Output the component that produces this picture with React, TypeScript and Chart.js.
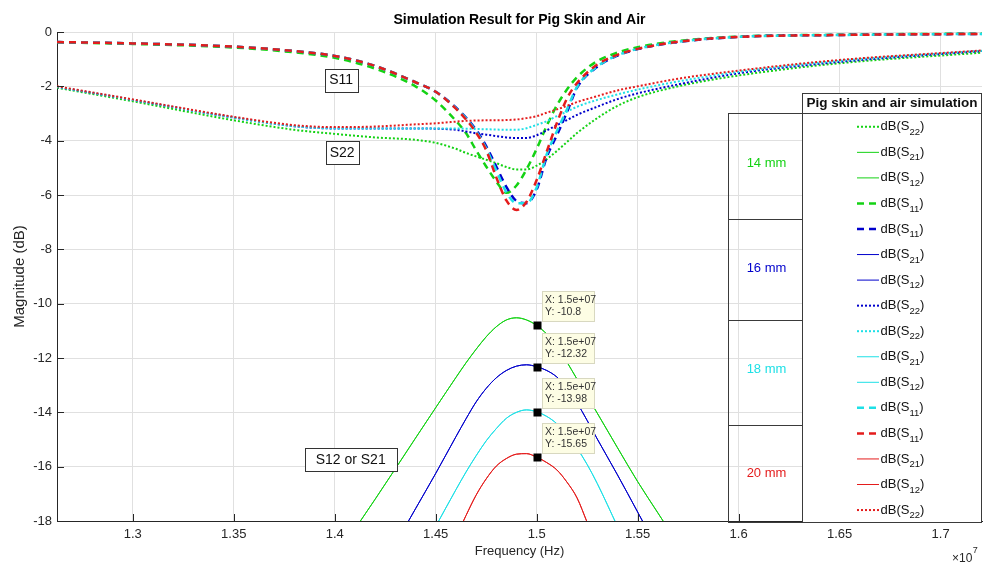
import React, { useEffect, useRef } from 'react';
import { Chart, registerables } from 'chart.js';

Chart.register(...registerables);

// ---------------- DATA ----------------
// Frequency in units of 1e7 Hz (axis shows ×10^7)
const X_MIN = 1.2625;
const X_MAX = 1.7205;
const X_TICKS = [1.3, 1.35, 1.4, 1.45, 1.5, 1.55, 1.6, 1.65, 1.7];
const Y_TICKS = [0, -2, -4, -6, -8, -10, -12, -14, -16, -18];

// reflection grid
const FREQ = [1.2625, 1.3, 1.35, 1.38, 1.4, 1.42, 1.44, 1.45, 1.46, 1.465, 1.47, 1.475, 1.48, 1.485, 1.49, 1.495, 1.5, 1.505, 1.51, 1.515, 1.52, 1.53, 1.54, 1.55, 1.57, 1.6, 1.65, 1.7205];

const S11_14 = [-0.38, -0.44, -0.57, -0.75, -0.95, -1.35, -2.0, -2.52, -3.27, -3.72, -4.35, -4.95, -5.5, -5.92, -5.65, -5.05, -4.3, -3.45, -2.7, -2.12, -1.66, -1.07, -0.76, -0.56, -0.33, -0.17, -0.1, -0.06];
const S11_16 = [-0.37, -0.42, -0.54, -0.7, -0.88, -1.25, -1.85, -2.2, -2.78, -3.15, -3.6, -4.2, -4.95, -5.7, -6.22, -6.3, -5.8, -4.6, -3.8, -2.95, -2.05, -1.28, -0.87, -0.63, -0.37, -0.18, -0.11, -0.07];
const S11_18 = [-0.37, -0.42, -0.54, -0.7, -0.88, -1.25, -1.85, -2.2, -2.8, -3.18, -3.65, -4.28, -5.1, -5.9, -6.3, -6.3, -5.72, -4.5, -3.65, -2.85, -2.02, -1.27, -0.86, -0.62, -0.36, -0.18, -0.11, -0.07];
const S11_20 = [-0.37, -0.42, -0.54, -0.7, -0.88, -1.25, -1.85, -2.2, -2.82, -3.22, -3.7, -4.35, -5.35, -6.2, -6.55, -6.25, -5.45, -4.4, -3.35, -2.45, -1.88, -1.2, -0.84, -0.62, -0.36, -0.18, -0.11, -0.07];

const S22_14 = [-2.05, -2.55, -3.25, -3.6, -3.75, -3.88, -3.97, -4.08, -4.3, -4.45, -4.58, -4.7, -4.83, -4.97, -5.06, -5.06, -4.92, -4.68, -4.38, -4.05, -3.72, -3.17, -2.72, -2.4, -2.0, -1.6, -1.15, -0.76];
const S22_16 = [-2.02, -2.5, -3.15, -3.47, -3.55, -3.55, -3.55, -3.56, -3.6, -3.66, -3.73, -3.78, -3.83, -3.88, -3.9, -3.9, -3.8, -3.62, -3.43, -3.24, -3.05, -2.75, -2.47, -2.26, -1.93, -1.52, -1.1, -0.7];
const S22_18 = [-2.02, -2.5, -3.15, -3.47, -3.55, -3.55, -3.55, -3.55, -3.55, -3.56, -3.57, -3.58, -3.59, -3.6, -3.6, -3.54, -3.42, -3.28, -3.1, -2.93, -2.75, -2.5, -2.3, -2.12, -1.82, -1.47, -1.06, -0.69];
const S22_20 = [-2.0, -2.48, -3.12, -3.43, -3.5, -3.48, -3.4, -3.36, -3.3, -3.27, -3.26, -3.25, -3.25, -3.24, -3.22, -3.17, -3.1, -2.97, -2.85, -2.72, -2.58, -2.36, -2.15, -2.0, -1.72, -1.42, -1.03, -0.68];

// transmission grid
const FREQ_T = [1.4, 1.41, 1.42, 1.43, 1.44, 1.45, 1.46, 1.465, 1.47, 1.475, 1.48, 1.485, 1.49, 1.495, 1.5, 1.505, 1.51, 1.515, 1.52, 1.525, 1.53, 1.54, 1.55, 1.56, 1.57, 1.58];

const S21_14 = [null, -18.3, -17.2, -16.08, -14.95, -13.83, -12.72, -12.18, -11.68, -11.22, -10.85, -10.6, -10.52, -10.6, -10.8, -11.12, -11.55, -12.15, -12.78, -13.4, -14.03, -15.3, -16.55, -17.7, -18.85, null];
const S21_16 = [null, null, null, -18.85, -17.55, -16.25, -14.9, -14.24, -13.62, -13.12, -12.73, -12.46, -12.3, -12.25, -12.32, -12.46, -12.7, -13.1, -13.65, -14.3, -14.98, -16.3, -17.67, -19.05, null, null];
const S21_18 = [null, null, null, null, null, -18.2, -16.85, -16.2, -15.6, -15.05, -14.6, -14.22, -14.0, -13.91, -13.98, -14.15, -14.42, -14.82, -15.32, -15.92, -16.62, -18.2, -19.8, null, null, null];
const S21_20 = [null, null, null, null, null, null, -18.6, -17.8, -17.05, -16.45, -15.98, -15.7, -15.54, -15.52, -15.65, -15.85, -16.12, -16.57, -17.15, -18.05, -18.95, null, null, null, null, null];
// reciprocal network: S12 equals S21
const S12_14 = S21_14;
const S12_16 = S21_16;
const S12_18 = S21_18;
const S12_20 = S21_20;

// data tips at 1.5e7 Hz
const TIP_FREQ = 1.5;
const TIP_VALUES = [-10.8, -12.32, -13.98, -15.65];

const TITLE = 'Simulation Result for Pig Skin and Air';
const X_TITLE = 'Frequency (Hz)';
const Y_TITLE = 'Magnitude (dB)';
const LEGEND_TITLE = 'Pig skin and air simulation';
const GROUP_LABELS = ['14 mm', '16 mm', '18 mm', '20 mm'];
const TEXT_LABELS = [
  { text: 'S11', x: 1.4032, y: -1.77, w: 33 },
  { text: 'S22', x: 1.4037, y: -4.45, w: 33 },
  { text: 'S12 or S21', x: 1.4079, y: -15.73, w: 92 },
];

// ---------------- STYLE ----------------
const FONT = 'Arial, "Liberation Sans", Helvetica, sans-serif';
const GREEN = '#14d214';
const BLUE = '#0000cc';
const CYAN = '#1ee0e6';
const RED = '#e41c1c';
const AXIS = '#262626';
const GRID = '#e0e0e0';
const GROUP_COLORS = [GREEN, BLUE, CYAN, RED];

type Style = 'dash' | 'dot' | 'solid';
type Spec = { label: string; freq: number[]; values: (number | null)[]; color: string; style: Style };

const SERIES: Spec[] = [
  { label: 'dB(S22)', freq: FREQ, values: S22_14, color: GREEN, style: 'dot' },
  { label: 'dB(S21)', freq: FREQ_T, values: S21_14, color: GREEN, style: 'solid' },
  { label: 'dB(S12)', freq: FREQ_T, values: S12_14, color: GREEN, style: 'solid' },
  { label: 'dB(S11)', freq: FREQ, values: S11_14, color: GREEN, style: 'dash' },
  { label: 'dB(S11)', freq: FREQ, values: S11_16, color: BLUE, style: 'dash' },
  { label: 'dB(S21)', freq: FREQ_T, values: S21_16, color: BLUE, style: 'solid' },
  { label: 'dB(S12)', freq: FREQ_T, values: S12_16, color: BLUE, style: 'solid' },
  { label: 'dB(S22)', freq: FREQ, values: S22_16, color: BLUE, style: 'dot' },
  { label: 'dB(S22)', freq: FREQ, values: S22_18, color: CYAN, style: 'dot' },
  { label: 'dB(S21)', freq: FREQ_T, values: S21_18, color: CYAN, style: 'solid' },
  { label: 'dB(S12)', freq: FREQ_T, values: S12_18, color: CYAN, style: 'solid' },
  { label: 'dB(S11)', freq: FREQ, values: S11_18, color: CYAN, style: 'dash' },
  { label: 'dB(S11)', freq: FREQ, values: S11_20, color: RED, style: 'dash' },
  { label: 'dB(S21)', freq: FREQ_T, values: S21_20, color: RED, style: 'solid' },
  { label: 'dB(S12)', freq: FREQ_T, values: S12_20, color: RED, style: 'solid' },
  { label: 'dB(S22)', freq: FREQ, values: S22_20, color: RED, style: 'dot' },
];

const styleProps = (s: Style) =>
  s === 'dash'
    ? { borderWidth: 2.5, borderDash: [7, 5] }
    : s === 'dot'
    ? { borderWidth: 2, borderDash: [2, 2] }
    : { borderWidth: 1, borderDash: [] as number[] };

const fmtX = (v: number) => String(Number(v.toFixed(2)));

function drawSubLabel(ctx: CanvasRenderingContext2D, text: string, x: number, y: number) {
  const m = /^(dB\(S)(\d+)(\))$/.exec(text);
  ctx.textAlign = 'left';
  ctx.textBaseline = 'middle';
  ctx.fillStyle = '#111';
  if (!m) {
    ctx.font = `13px ${FONT}`;
    ctx.fillText(text, x, y);
    return;
  }
  ctx.font = `13px ${FONT}`;
  ctx.fillText(m[1], x, y);
  let w = ctx.measureText(m[1]).width;
  ctx.font = `9.5px ${FONT}`;
  ctx.fillText(m[2], x + w, y + 5.5);
  w += ctx.measureText(m[2]).width;
  ctx.font = `13px ${FONT}`;
  ctx.fillText(m[3], x + w, y);
}

const decorPlugin = {
  id: 'decor',
  afterDraw(chart: any) {
    const ctx: CanvasRenderingContext2D = chart.ctx;
    const { left, bottom } = chart.chartArea;
    const xs = chart.scales.x;
    const ys = chart.scales.y;
    ctx.save();

    // inward tick marks
    ctx.strokeStyle = AXIS;
    ctx.lineWidth = 1;
    ctx.beginPath();
    X_TICKS.forEach((v) => {
      const px = Math.round(xs.getPixelForValue(v)) + 0.5;
      ctx.moveTo(px, bottom);
      ctx.lineTo(px, bottom - 7);
    });
    Y_TICKS.forEach((v) => {
      const py = Math.round(ys.getPixelForValue(v)) + 0.5;
      ctx.moveTo(left, py);
      ctx.lineTo(left + 7, py);
    });
    ctx.stroke();

    // text annotations with boxes
    ctx.font = `14px ${FONT}`;
    ctx.textAlign = 'center';
    ctx.textBaseline = 'middle';
    TEXT_LABELS.forEach((t) => {
      const cx = xs.getPixelForValue(t.x);
      const cy = ys.getPixelForValue(t.y);
      const w = t.w;
      const h = 23;
      const bx = Math.round(cx - w / 2) + 0.5;
      const by = Math.round(cy - h / 2) + 0.5;
      ctx.fillStyle = '#ffffff';
      ctx.fillRect(bx, by, w, h);
      ctx.strokeStyle = '#333';
      ctx.strokeRect(bx, by, w, h);
      ctx.fillStyle = '#111';
      ctx.fillText(t.text, cx, cy + 0.5);
    });

    // data tips
    TIP_VALUES.forEach((v) => {
      const px = xs.getPixelForValue(TIP_FREQ);
      const py = ys.getPixelForValue(v);
      ctx.fillStyle = '#000';
      ctx.fillRect(Math.round(px) - 3.5, Math.round(py) - 3.5, 8, 8);
      const bx = Math.round(px) + 5.5;
      const by = Math.round(py) - 33.5;
      ctx.fillStyle = '#fdfde4';
      ctx.fillRect(bx, by, 52, 30);
      ctx.strokeStyle = '#d8d8c0';
      ctx.strokeRect(bx, by, 52, 30);
      ctx.fillStyle = '#333';
      ctx.font = `10.5px ${FONT}`;
      ctx.textAlign = 'left';
      ctx.textBaseline = 'middle';
      const xLabel = (TIP_FREQ * 1e7).toExponential(1).replace(/e\+(\d)$/, 'e+0$1');
      ctx.fillText(`X: ${xLabel}`, bx + 2.5, by + 9);
      ctx.fillText(`Y: ${v}`, bx + 2.5, by + 21);
    });

    // legend table
    const Lx0 = 728.5, Lx1 = 802.5, Lx2 = 981.5;
    const Ly0 = 93.5, Ly1 = 113.5, Ly2 = 522.5;
    const groupY = [113.5, 219.5, 320.5, 425.5, 522.5];
    ctx.fillStyle = '#fff';
    ctx.fillRect(Lx1, Ly0, Lx2 - Lx1, Ly2 - Ly0);
    ctx.strokeStyle = '#3a3a3a';
    ctx.lineWidth = 1;
    ctx.strokeRect(Lx1, Ly0, Lx2 - Lx1, Ly1 - Ly0);
    ctx.strokeRect(Lx1, Ly1, Lx2 - Lx1, Ly2 - Ly1);
    ctx.strokeRect(Lx0, Ly1, Lx1 - Lx0, Ly2 - Ly1);
    ctx.beginPath();
    groupY.slice(1, 4).forEach((gy) => {
      ctx.moveTo(Lx0, gy);
      ctx.lineTo(Lx1, gy);
    });
    ctx.stroke();

    ctx.fillStyle = '#111';
    ctx.font = `bold 13.5px ${FONT}`;
    ctx.textAlign = 'center';
    ctx.textBaseline = 'middle';
    ctx.fillText(LEGEND_TITLE, (Lx1 + Lx2) / 2, 103.5);

    const groupLabelY = [163, 268, 369, 473];
    ctx.font = `13px ${FONT}`;
    GROUP_LABELS.forEach((g, i) => {
      ctx.fillStyle = GROUP_COLORS[i];
      ctx.fillText(g, (Lx0 + Lx1) / 2 + 1, groupLabelY[i]);
    });

    chart.data.datasets.forEach((ds: any, i: number) => {
      const y = 126.8 + i * 25.55;
      ctx.strokeStyle = ds.borderColor;
      ctx.lineWidth = ds.borderWidth;
      ctx.setLineDash(ds.borderDash || []);
      ctx.beginPath();
      ctx.moveTo(857, y);
      ctx.lineTo(879, y);
      ctx.stroke();
      ctx.setLineDash([]);
      drawSubLabel(ctx, ds.label, 880.5, y);
    });

    // x10^7 exponent
    ctx.fillStyle = '#262626';
    ctx.textAlign = 'left';
    ctx.textBaseline = 'middle';
    ctx.font = `12px ${FONT}`;
    ctx.fillText('\u00d710', 952, 559);
    const w10 = ctx.measureText('\u00d710').width;
    ctx.font = `9px ${FONT}`;
    ctx.fillText('7', 952 + w10 + 0.5, 551);

    ctx.restore();
  },
};

export default function App() {
  const ref = useRef<HTMLCanvasElement | null>(null);

  useEffect(() => {
    if (!ref.current) return;
    const datasets = SERIES.map((s, i) => ({
      label: s.label,
      data: s.freq.map((f, j) => ({ x: f, y: s.values[j] })),
      borderColor: s.color,
      backgroundColor: s.color,
      ...styleProps(s.style),
      pointRadius: 0,
      fill: false,
      cubicInterpolationMode: 'monotone' as const,
      spanGaps: false,
      clip: 0,
      order: SERIES.length - i,
    }));

    const tickFont = { family: FONT, size: 13 };
    const chart = new Chart(ref.current, {
      type: 'line',
      data: { datasets },
      plugins: [decorPlugin],
      options: {
        responsive: false,
        animation: false,
        events: [],
        layout: { padding: { left: 0, right: 5, top: 0, bottom: 0 } },
        plugins: {
          legend: { display: false },
          tooltip: { enabled: false },
          title: {
            display: true,
            text: TITLE,
            fullSize: false,
            color: '#000',
            font: { family: FONT, size: 14, weight: 'bold' },
            padding: { top: 12, bottom: 3.2 },
          },
        },
        scales: {
          x: {
            type: 'linear',
            min: X_MIN,
            max: X_MAX,
            afterFit: (s: any) => {
              s.height = 49;
            },
            afterBuildTicks: (s: any) => {
              s.ticks = X_TICKS.map((v) => ({ value: v }));
            },
            grid: { color: GRID, drawTicks: false, lineWidth: 1 },
            border: { color: AXIS, width: 1 },
            ticks: {
              font: tickFont,
              color: AXIS,
              padding: 6,
              autoSkip: false,
              maxRotation: 0,
              includeBounds: false,
              callback: (v: any) => fmtX(Number(v)),
            },
            title: {
              display: true,
              text: X_TITLE,
              color: AXIS,
              font: { family: FONT, size: 13 },
              padding: { top: 11, bottom: 11 },
            },
          },
          y: {
            type: 'linear',
            min: -18,
            max: 0,
            afterFit: (s: any) => {
              s.width = 57;
            },
            afterBuildTicks: (s: any) => {
              s.ticks = Y_TICKS.map((v) => ({ value: v }));
            },
            grid: { color: GRID, drawTicks: false, lineWidth: 1 },
            border: { color: AXIS, width: 1 },
            ticks: {
              font: tickFont,
              color: AXIS,
              padding: 5,
              autoSkip: false,
              includeBounds: false,
              callback: (v: any) => String(v),
            },
            title: {
              display: true,
              text: Y_TITLE,
              color: AXIS,
              font: { family: FONT, size: 15 },
              padding: { top: 11, bottom: 11 },
            },
          },
        },
      },
    } as any);
    return () => chart.destroy();
  }, []);

  return (
    <div style={{ position: 'absolute', left: 0, top: 0, width: 987, height: 570, background: '#fff' }}>
      <canvas ref={ref} width={987} height={570} style={{ display: 'block' }} />
    </div>
  );
}
